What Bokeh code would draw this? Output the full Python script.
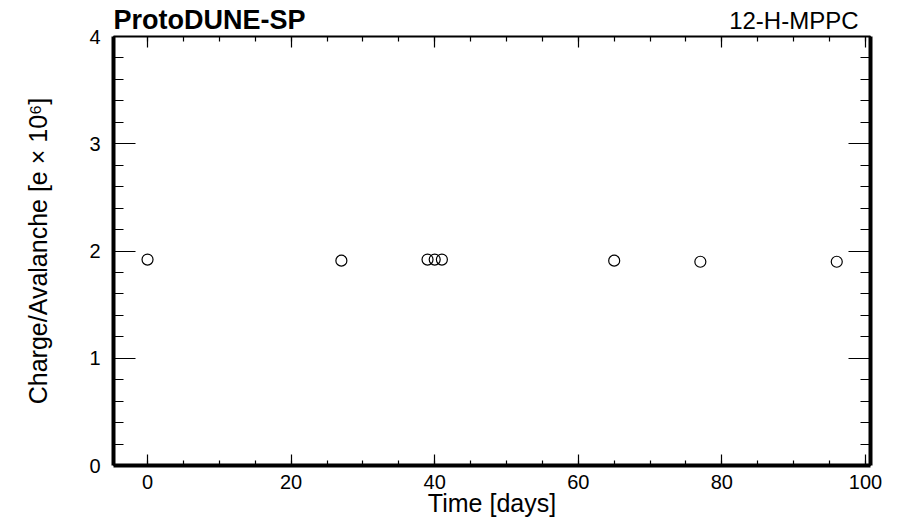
from bokeh.plotting import figure
from bokeh.models import Range1d, LinearAxis, SingleIntervalTicker, Title
from bokeh.embed import file_html
from bokeh.resources import INLINE

# Measurement days and average charge per avalanche (in units of 1e6 electrons)
days = [0, 27, 39, 40, 41, 65, 77, 96]
charge = [1.92, 1.91, 1.92, 1.92, 1.92, 1.91, 1.90, 1.90]

x_ticks_major = 20
y_ticks_major = 1

FONT = "Liberation Sans"

p = figure(
    width=900, height=522,
    x_range=Range1d(-4.74, 100.7), y_range=Range1d(0, 4),
    min_border_left=113, min_border_right=30,
    min_border_top=36, min_border_bottom=57,
    output_backend="svg", toolbar_location=None,
    x_axis_location=None, y_axis_location=None,
)
p.outline_line_color = None
p.xgrid.visible = False
p.ygrid.visible = False
p.background_fill_color = "white"
p.border_fill_color = "white"


def style_axis(ax, is_x, line_width, show_labels):
    ax.ticker = SingleIntervalTicker(
        interval=x_ticks_major if is_x else y_ticks_major,
        num_minor_ticks=4 if is_x else 5,
    )
    ax.axis_line_width = line_width
    ax.axis_line_color = "black"
    ax.major_tick_out = 0
    ax.minor_tick_out = 0
    ax.major_tick_in = 11 if is_x else 22
    ax.minor_tick_in = 5 if is_x else 10
    ax.major_tick_line_width = 1.2
    ax.minor_tick_line_width = 1.2
    ax.major_tick_line_color = "black"
    ax.minor_tick_line_color = "black"
    if show_labels:
        ax.major_label_text_font = FONT
        ax.major_label_text_font_size = "20px"
        ax.major_label_text_color = "black"
        ax.major_label_standoff = 9 if is_x else 13
        ax.axis_label_text_font = FONT
        ax.axis_label_text_font_size = "25px"
        ax.axis_label_text_font_style = "normal"
        ax.axis_label_text_color = "black"
    else:
        # frame-only axis: ticks, no numbers
        ax.major_label_text_font_size = "0px"
        ax.major_label_text_color = None
        ax.major_label_standoff = 0


bottom = LinearAxis(axis_label="Time [days]")
style_axis(bottom, True, 4, True)
bottom.axis_label_standoff = -3
p.add_layout(bottom, "below")

left = LinearAxis(axis_label="Charge/Avalanche [e \u00d7 10\u2076]")
style_axis(left, False, 4, True)
left.axis_label_standoff = 34
p.add_layout(left, "left")

top = LinearAxis()
style_axis(top, True, 2, False)
p.add_layout(top, "above")

# Invisible spacer axis: reserves a band between the frame and the header row
spacer = LinearAxis()
style_axis(spacer, True, 0, False)
spacer.axis_line_color = None
spacer.major_tick_line_color = None
spacer.minor_tick_line_color = None
spacer.major_tick_in = 0
spacer.minor_tick_in = 0
spacer.major_tick_out = 18
p.add_layout(spacer, "above")

right = LinearAxis()
style_axis(right, False, 4, False)
p.add_layout(right, "right")

p.scatter(days, charge, marker="circle", size=11,
          fill_color=None, line_color="black", line_width=1.2)

# Both headers collapse to zero height so they share one row
detector = Title(text="12-H-MPPC", align="right", text_font=FONT,
                 text_font_size="24px", text_font_style="normal",
                 text_color="black", standoff=-30, offset=12)
p.add_layout(detector, "above")

p.title = Title(text="ProtoDUNE-SP", align="left", text_font=FONT,
                text_font_size="27px", text_font_style="bold",
                text_color="black", standoff=-33, offset=0)

open("out.html", "w").write(file_html(p, INLINE))
